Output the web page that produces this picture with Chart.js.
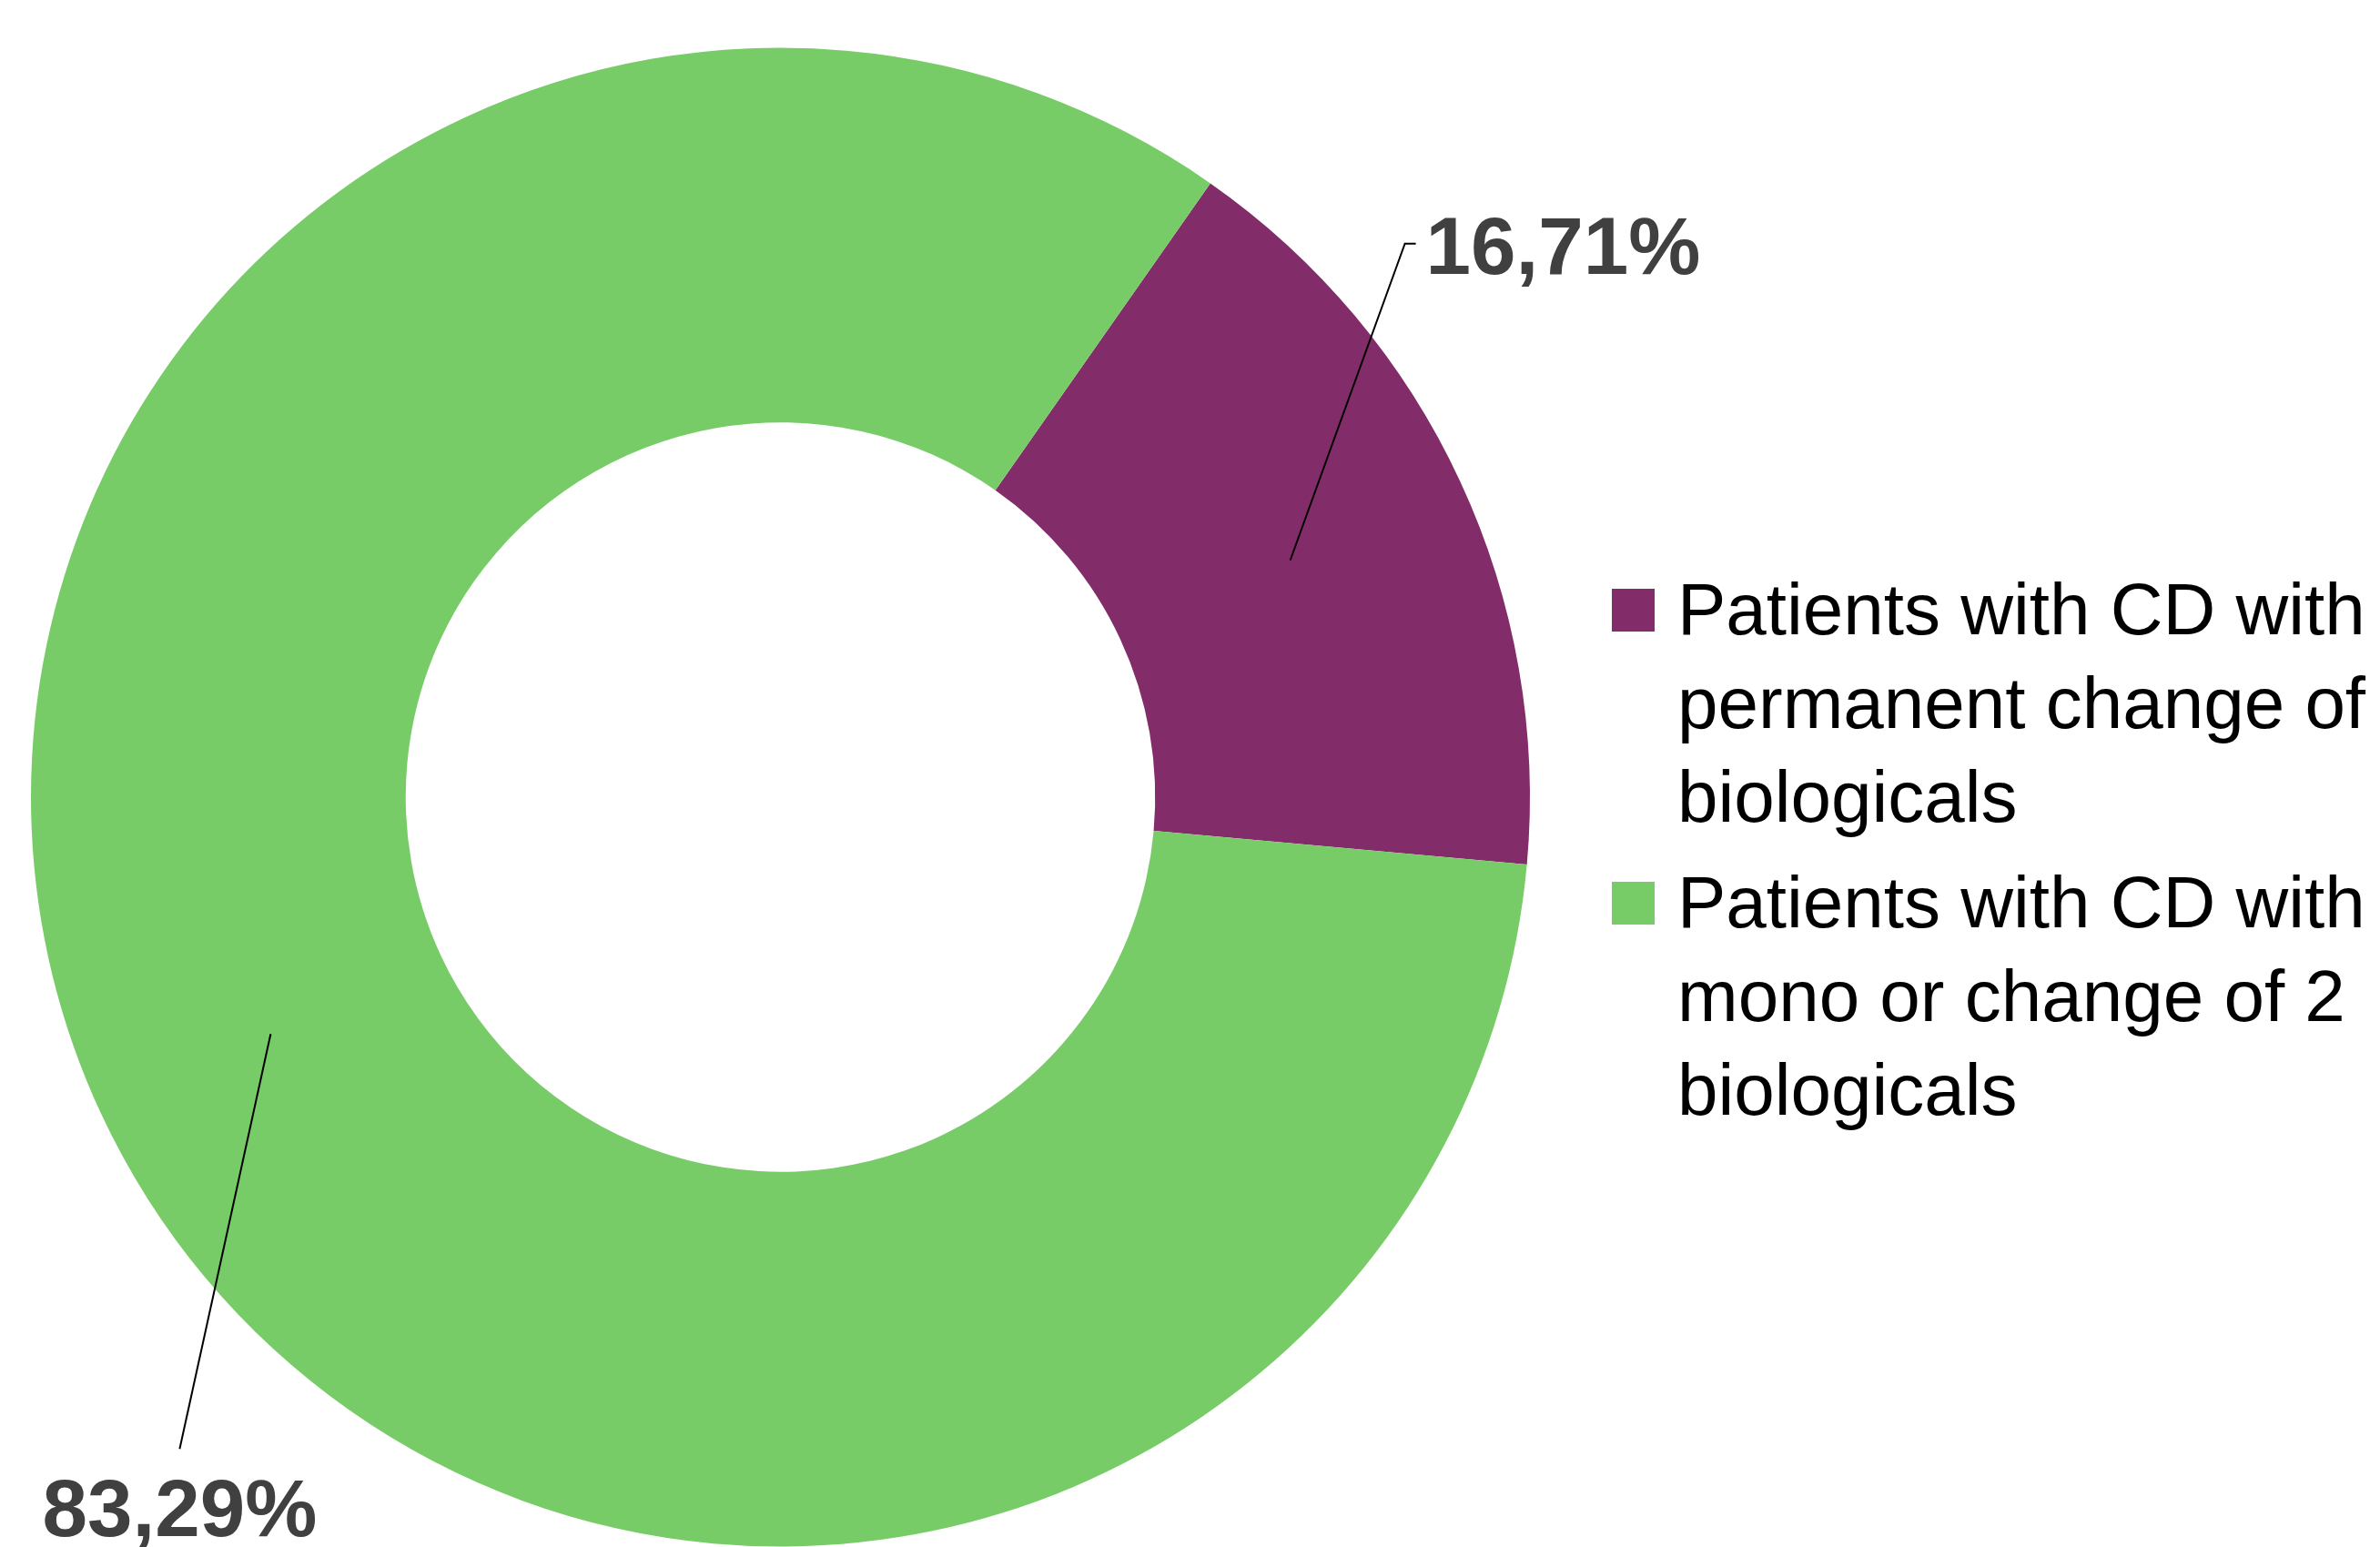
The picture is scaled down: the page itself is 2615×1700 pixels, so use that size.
<!DOCTYPE html>
<html>
<head>
<meta charset="utf-8">
<script src="https://cdn.jsdelivr.net/npm/chart.js@4.4.1/dist/chart.umd.min.js"></script>
<style>
  html, body { margin: 0; padding: 0; background: #fff; }
  #wrap { position: relative; width: 2615px; height: 1700px; overflow: hidden; }
  #legend { position: absolute; left: 1771px; top: 618px; font-family: "Liberation Sans", Arial, sans-serif; font-size: 80px; line-height: 103px; color: #000; }
  .item { display: flex; align-items: flex-start; margin-bottom: 13px; }
  .box { width: 47px; height: 47px; margin-top: 29px; margin-right: 25px; flex: none; }
</style>
</head>
<body>
<div id="wrap">
  <canvas id="chart" width="2615" height="1700"></canvas>
  <div id="legend"></div>
</div>
<script>
// данні
const categories = [
  ['Patients with CD with', 'permanent change of', 'biologicals'],
  ['Patients with CD with', 'mono or change of 2', 'biologicals']
];
const values = [16.71, 83.29];
const valueLabels = ['16,71%', '83,29%'];
const colors = ['#822C69', '#78CC68'];

// зміщення підписів від центру сектора
const labelOffsets = [
  { dx: 126, dy: -348, side: 'right' },
  { dx: -100, dy: 456, side: 'below' }
];

const calloutPlugin = {
  id: 'callouts',
  afterDatasetsDraw(chart) {
    const ctx = chart.ctx;
    const arcs = chart.getDatasetMeta(0).data;
    ctx.save();
    ctx.font = 'bold 89px "Liberation Sans", Arial, sans-serif';
    ctx.fillStyle = '#404040';
    ctx.strokeStyle = '#000';
    ctx.lineWidth = 2;
    arcs.forEach((arc, i) => {
      const p = arc.getCenterPoint();
      const o = labelOffsets[i];
      const ex = p.x + o.dx, ey = p.y + o.dy;
      ctx.beginPath();
      ctx.moveTo(p.x, p.y);
      ctx.lineTo(ex, ey);
      if (o.side === 'right') ctx.lineTo(ex + 12, ey);
      ctx.stroke();
      ctx.textBaseline = 'alphabetic';
      if (o.side === 'right') {
        ctx.textAlign = 'left';
        ctx.fillText(valueLabels[i], ex + 23, ey + 33);
      } else {
        ctx.textAlign = 'center';
        ctx.fillText(valueLabels[i], ex, ey + 96);
      }
    });
    ctx.restore();
  }
};

new Chart(document.getElementById('chart'), {
  type: 'doughnut',
  data: {
    labels: categories.map(c => c.join(' ')),
    datasets: [{
      data: values,
      backgroundColor: colors,
      borderWidth: 0
    }]
  },
  options: {
    responsive: false,
    animation: false,
    cutout: '50%',
    rotation: 35,
    layout: { padding: { left: 34, top: 52, right: 934, bottom: 0 } },
    plugins: {
      legend: { display: false },
      tooltip: { enabled: false }
    }
  },
  plugins: [calloutPlugin]
});

// легенда
const legend = document.getElementById('legend');
categories.forEach((lines, i) => {
  const item = document.createElement('div');
  item.className = 'item';
  item.innerHTML = `<div class="box" style="background:${colors[i]}"></div><div>${lines.join('<br>')}</div>`;
  legend.appendChild(item);
});
</script>
</body>
</html>
